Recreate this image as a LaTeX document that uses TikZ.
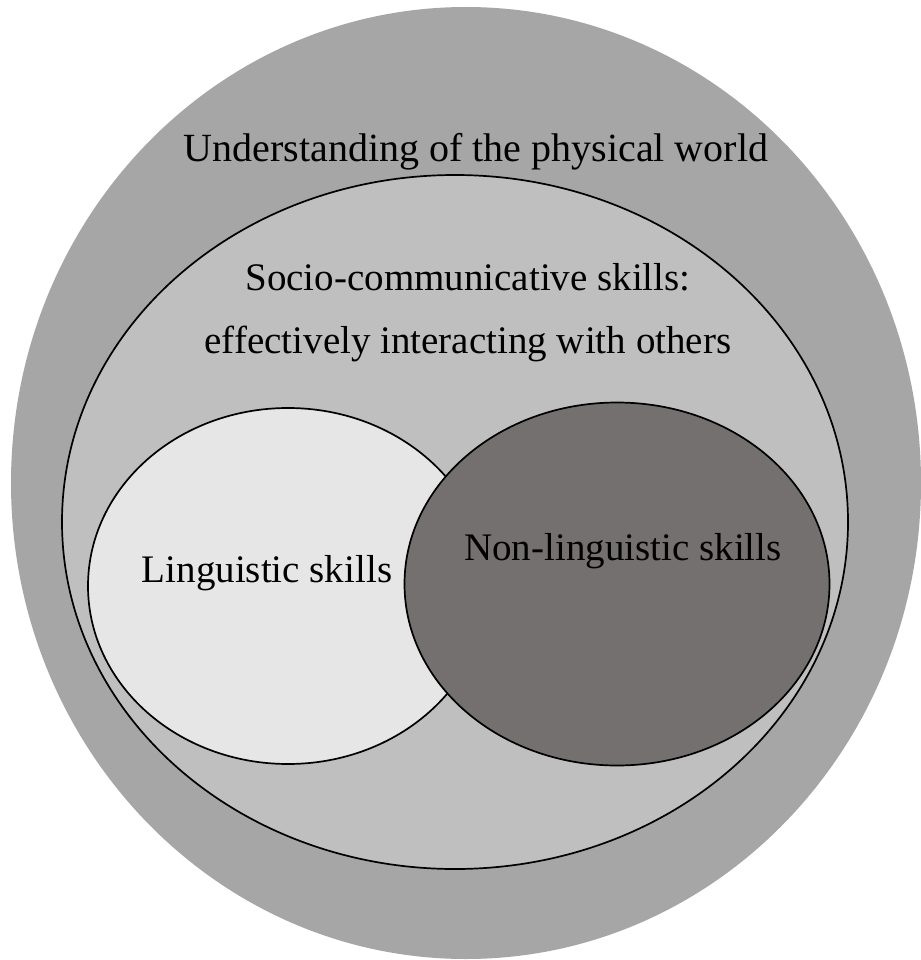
\documentclass[tikz,border=0pt]{standalone}
\usepackage{fontspec}
\setmainfont{Liberation Serif}
\usetikzlibrary{shapes.geometric}

\definecolor{worldgray}{HTML}{A6A6A6}
\definecolor{sociogray}{HTML}{BFBFBF}
\definecolor{linggray}{HTML}{E6E6E6}
\definecolor{nonlinggray}{HTML}{757070}

\tikzset{
  region/.style={ellipse, inner sep=0pt, draw=black, line width=1.7pt},
  label/.style={anchor=base, inner sep=0pt, font=\fontsize{39}{44}\selectfont}
}

\begin{document}
\begin{tikzpicture}[x=1pt, y=-1pt]
  \useasboundingbox (0,0) rectangle (920,960);
  \fill[white] (0,0) rectangle (920,960);

  % outer region: physical world
  \node[ellipse, inner sep=0pt, fill=worldgray,
        minimum width=910pt, minimum height=952pt] (world) at (466,483) {};

  % socio-communicative region
  \node[region, fill=sociogray,
        minimum width=786pt, minimum height=694pt] (socio) at (455,522) {};

  % linguistic and non-linguistic skills
  \node[region, fill=linggray,
        minimum width=400pt, minimum height=356pt] (ling) at (288,586) {};
  \node[region, fill=nonlinggray,
        minimum width=425pt, minimum height=363pt] (nonling) at (617,584) {};

  % labels
  \node[label, font=\fontsize{40}{44}\selectfont] (worldtext) at (476,161) {Understanding of the physical world};
  \node[label] (sociotext1) at (468,290) {Socio-communicative skills:};
  \node[label] (sociotext2) at (468,353) {effectively interacting with others};
  \node[label] (lingtext) at (267,582) {Linguistic skills};
  \node[label] (nonlingtext) at (623,560) {Non-linguistic skills};
\end{tikzpicture}
\end{document}
